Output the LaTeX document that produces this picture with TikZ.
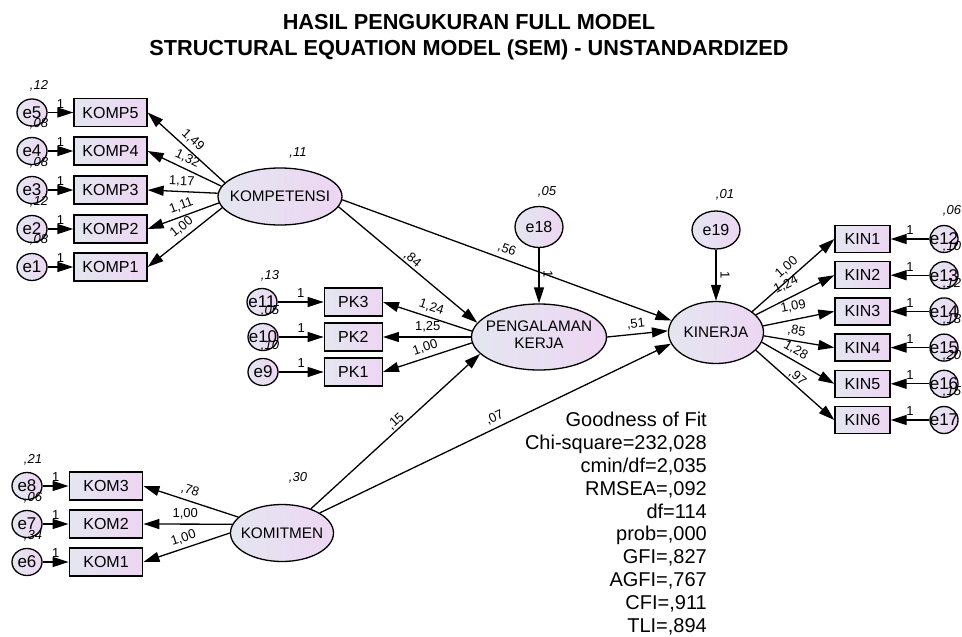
\documentclass[tikz,border=0pt]{standalone}
\usepackage{fontspec}
\setmainfont{Liberation Sans}
\usetikzlibrary{shapes.geometric,arrows.meta,calc}
\definecolor{fillL}{RGB}{228,230,240}
\definecolor{fillR}{RGB}{237,214,243}
\newcommand\zb[1]{\makebox[0pt]{#1}}
\tikzset{
 obs/.style={draw, line width=1.3pt, rectangle, inner sep=0pt, left color=fillL, right color=fillR, minimum height=28pt, font=\fontsize{16}{18}\selectfont},
 lat/.style={draw, line width=1.3pt, ellipse, inner sep=0pt, left color=fillL, right color=fillR, font=\fontsize{15.3}{17}\selectfont},
 err/.style={draw, line width=1.3pt, ellipse, inner sep=0pt, left color=fillL, right color=fillR, minimum width=30pt, minimum height=27pt, font=\fontsize{17}{19}\selectfont},
 var/.style={font=\fontsize{13}{15}\selectfont\itshape, inner sep=0pt},
 est/.style={font=\fontsize{13}{15}\selectfont, inner sep=1pt, sloped, above=3pt},
 estn/.style={font=\fontsize{13}{15}\selectfont, inner sep=1pt, sloped, above=0pt},
 estw/.style={font=\fontsize{13}{15}\selectfont, inner sep=1pt, sloped, above=6pt},
 one/.style={font=\fontsize{13}{15}\selectfont, inner sep=1pt, above=2.5pt},
 arr/.style={line width=1.3pt, -{Triangle[length=16pt,width=10pt]}},
}
\begin{document}
\begin{tikzpicture}[x=1pt,y=-1pt]
\fill[white] (0,0) rectangle (962,637);
\path[use as bounding box] (0,0) rectangle (962,637);

% title
\node[font=\fontsize{21.7}{24}\selectfont\bfseries, anchor=base, inner sep=0pt] (t1) at (469,30) {HASIL PENGUKURAN FULL MODEL};
\node[font=\fontsize{21.7}{24}\selectfont\bfseries, anchor=base, inner sep=0pt] (t2) at (469,55) {STRUCTURAL EQUATION MODEL (SEM) - UNSTANDARDIZED};

% ---------- KOMPETENSI block
\node[err] (e5) at (32,112.5) {\zb{e5}};
\node[err] (e4) at (32,151) {\zb{e4}};
\node[err] (e3) at (32,190) {\zb{e3}};
\node[err] (e2) at (32,229) {\zb{e2}};
\node[err] (e1) at (32,267) {\zb{e1}};
\node[obs, minimum width=73pt] (KOMP5) at (110.5,112.5) {KOMP5};
\node[obs, minimum width=73pt] (KOMP4) at (110.5,151) {KOMP4};
\node[obs, minimum width=73pt] (KOMP3) at (110.5,190) {KOMP3};
\node[obs, minimum width=73pt] (KOMP2) at (110.5,229) {KOMP2};
\node[obs, minimum width=73pt] (KOMP1) at (110.5,267) {KOMP1};
\node[lat, minimum width=124pt, minimum height=57pt] (KOMPETENSI) at (280,196.5) {\zb{KOMPETENSI}};

% ---------- PK block
\node[err] (e11) at (262,302) {\zb{e11}};
\node[err] (e10) at (263,337) {\zb{e10}};
\node[err] (e9) at (263,372) {\zb{e9}};
\node[obs, minimum width=58pt] (PK3) at (353.3,302) {PK3};
\node[obs, minimum width=58pt] (PK2) at (353.3,337) {PK2};
\node[obs, minimum width=58pt] (PK1) at (353.3,372) {PK1};
\node[lat, minimum width=135pt, minimum height=66pt] (PENG) at (539,337) {\zb{\begin{tabular}{@{}c@{}}PENGALAMAN\\KERJA\end{tabular}}};
\node[err, minimum width=48pt, minimum height=41pt, font=\fontsize{16}{18}\selectfont] (e18) at (539,227) {\zb{e18}};

% ---------- KINERJA block
\node[lat, minimum width=95pt, minimum height=62pt] (KINERJA) at (716,332.5) {\zb{KINERJA}};
\node[err, minimum width=48pt, minimum height=38pt, font=\fontsize{16}{18}\selectfont] (e19) at (716,230) {\zb{e19}};
\node[obs, minimum width=55pt, minimum height=27pt] (KIN1) at (862.5,239) {KIN1};
\node[obs, minimum width=55pt, minimum height=27pt] (KIN2) at (862.5,275.2) {KIN2};
\node[obs, minimum width=55pt, minimum height=27pt] (KIN3) at (862.5,311.4) {KIN3};
\node[obs, minimum width=55pt, minimum height=27pt] (KIN4) at (862.5,347.6) {KIN4};
\node[obs, minimum width=55pt, minimum height=27pt] (KIN5) at (862.5,383.8) {KIN5};
\node[obs, minimum width=55pt, minimum height=27pt] (KIN6) at (862.5,420) {KIN6};
\node[err, minimum width=28pt] (e12) at (944,239) {\zb{e12}};
\node[err, minimum width=28pt] (e13) at (944,275.2) {\zb{e13}};
\node[err, minimum width=28pt] (e14) at (944,311.4) {\zb{e14}};
\node[err, minimum width=28pt] (e15) at (944,347.6) {\zb{e15}};
\node[err, minimum width=28pt] (e16) at (944,383.8) {\zb{e16}};
\node[err, minimum width=28pt] (e17) at (944,420) {\zb{e17}};

% ---------- KOMITMEN block
\node[err] (e8) at (27,486) {\zb{e8}};
\node[err] (e7) at (27,524) {\zb{e7}};
\node[err] (e6) at (27,562) {\zb{e6}};
\node[obs, minimum width=73.5pt] (KOM3) at (106,486) {KOM3};
\node[obs, minimum width=73.5pt] (KOM2) at (106,524) {KOM2};
\node[obs, minimum width=73.5pt] (KOM1) at (106,562) {KOM1};
\node[lat, minimum width=103pt, minimum height=57pt] (KOMITMEN) at (282,533) {\zb{KOMITMEN}};

% ---------- variances
\node[var] (v5) at ($(e5)+(7,-27)$) {,12};
\node[var] (v4) at ($(e4)+(7,-27)$) {,08};
\node[var] (v3) at ($(e3)+(7,-27)$) {,08};
\node[var] (v2) at ($(e2)+(7,-27)$) {,12};
\node[var] (v1) at ($(e1)+(7,-27)$) {,08};
\node[var] (v11) at ($(e11)+(8,-26)$) {,13};
\node[var] (v10) at ($(e10)+(7,-26)$) {,05};
\node[var] (v9) at ($(e9)+(7,-26)$) {,10};
\node[var] (v8) at ($(e8)+(6,-26)$) {,21};
\node[var] (v7) at ($(e7)+(6,-26)$) {,06};
\node[var] (v6) at ($(e6)+(6,-26)$) {,34};
\node[var] (v12) at ($(e12)+(8,-28)$) {,06};
\node[var] (v13) at ($(e13)+(8,-28)$) {,10};
\node[var] (v14) at ($(e14)+(8,-28)$) {,12};
\node[var] (v15) at ($(e15)+(8,-28)$) {,18};
\node[var] (v16) at ($(e16)+(8,-28)$) {,20};
\node[var] (v17) at ($(e17)+(8,-28)$) {,15};
\node[var] (v18) at ($(e18)+(8,-35)$) {,05};
\node[var] (v19) at ($(e19)+(9,-35)$) {,01};
\node[var] (vkomp) at ($(KOMPETENSI)+(18,-43.5)$) {,11};
\node[var] (vkom) at ($(KOMITMEN)+(16,-55)$) {,30};

% ---------- error arrows
\foreach \e/\b in {e5/KOMP5,e4/KOMP4,e3/KOMP3,e2/KOMP2,e1/KOMP1,e11/PK3,e10/PK2,e9/PK1,e8/KOM3,e7/KOM2,e6/KOM1,e12/KIN1,e13/KIN2,e14/KIN3,e15/KIN4,e16/KIN5,e17/KIN6}
  \draw[arr] (\e) -- node[one]{1} (\b);
\draw[arr] (e18) -- node[est, pos=.47]{1} (PENG);
\draw[arr] (e19) -- node[est, pos=.5]{1} (KINERJA);

% ---------- loadings
\draw[arr] (KOMPETENSI.166) -- node[est, pos=.5]{1,49} (KOMP5.east);
\draw[arr] (KOMPETENSI.170) -- node[est, pos=.52]{1,32} (KOMP4.east);
\draw[arr] (KOMPETENSI.177) -- node[est, pos=.52]{1,17} (KOMP3.east);
\draw[arr] (KOMPETENSI.186) -- node[est, pos=.48]{1,11} (KOMP2.east);
\draw[arr] (KOMPETENSI.191) -- node[est, pos=.46]{1,00} (KOMP1.east);

\draw[arr] (PENG.175) -- node[est, pos=.49]{1,24} (PK3.east);
\draw[arr] (PENG.180) -- node[est, pos=.49]{1,25} (PK2.east);
\draw[arr] (PENG.185) -- node[est, pos=.49]{1,00} (PK1.east);

\draw[arr] (KOMITMEN.160) -- node[est, pos=.54]{,78} (KOM3.east);
\draw[arr] (KOMITMEN.170) -- node[est, pos=.53]{1,00} (KOM2.east);
\draw[arr] (KOMITMEN.180) -- node[est, pos=.5]{1,00} (KOM1.east);

\draw[arr] (KINERJA.30) -- node[est, pos=.5]{1,00} (KIN1.west);
\draw[arr] (KINERJA.24) -- node[estw, pos=.46]{1,24} (KIN2.west);
\draw[arr] (KINERJA.8) -- node[estw, pos=.46]{1,09} (KIN3.west);
\draw[arr] (KINERJA.-4) -- node[est, pos=.44]{,85} (KIN4.west);
\draw[arr] (KINERJA.-12) -- node[est, pos=.40]{1,28} (KIN5.west);
\draw[arr] (KINERJA.-24) -- node[estn, pos=.47]{,97} (KIN6.west);

% ---------- structural paths
\draw[arr] (KOMPETENSI.-10) -- node[estn, pos=.5]{,84} (PENG.167);
\draw[arr] (KOMPETENSI.-3) -- node[est, pos=.49]{,56} (KINERJA.165);
\draw[arr] (PENG.east) -- node[est, pos=.49]{,51} (KINERJA.178);
\draw[arr] (KOMITMEN.40) -- node[estn, pos=.53]{,15} (PENG.196);
\draw[arr] (KOMITMEN.28) -- node[est, pos=.51]{,07} (KINERJA.194);

% ---------- fit
\node[font=\fontsize{20}{22.8}\selectfont, align=right, anchor=north east, inner sep=0pt] (gof) at (707,412.2) {Goodness of Fit\\Chi-square=232,028\\cmin/df=2,035\\RMSEA=,092\\df=114\\prob=,000\\GFI=,827\\AGFI=,767\\CFI=,911\\TLI=,894};
\end{tikzpicture}
\end{document}
